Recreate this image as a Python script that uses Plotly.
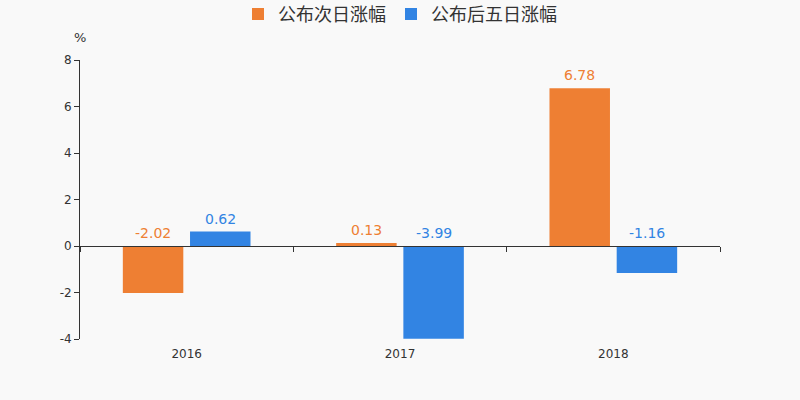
import plotly.graph_objects as go

categories = ["2016", "2017", "2018"]
next_day = [-2.02, 0.13, 6.78]
five_day = [0.62, -3.99, -1.16]
series_names = ["公布次日涨幅", "公布后五日涨幅"]
colors = ["#ee7f33", "#3284e3"]
y_ticks = [-4, -2, 0, 2, 4, 6, 8]

bargap = 0.37
slot_offset = (1 - bargap) / 4

fig = go.Figure()
annotations = []
for k, (name, vals, c) in enumerate(zip(series_names, [next_day, five_day], colors)):
    fig.add_trace(go.Bar(
        x=categories, y=vals, name=name, marker=dict(color=c, line=dict(width=0)),
        hoverinfo="x+y",
    ))
    off = -slot_offset if k == 0 else slot_offset
    for i, v in enumerate(vals):
        annotations.append(dict(
            x=i + off, y=max(v, 0), xref="x", yref="y", text=f"{v:.2f}",
            showarrow=False, yanchor="bottom", yshift=3,
            font=dict(color=c, size=14, family="DejaVu Sans")))

# invisible trace on second x axis for zero-line ticks
fig.add_trace(go.Scatter(x=categories, y=[0, 0, 0], xaxis="x2", mode="markers",
                         marker=dict(opacity=0), showlegend=False, hoverinfo="skip"))

annotations.append(dict(text="%", xref="paper", yref="paper", x=0, y=1, xanchor="center",
                        yanchor="bottom", yshift=13, showarrow=False,
                        font=dict(size=13, color="#333", family="DejaVu Sans")))

fig.update_layout(
    width=800, height=400,
    paper_bgcolor="#f9f9f9", plot_bgcolor="#f9f9f9",
    margin=dict(l=80, r=80, t=60, b=61, autoexpand=False),
    barmode="group", bargap=bargap, bargroupgap=0.1,
    font=dict(family="DejaVu Sans, Noto Sans CJK SC", color="#333"),
    legend=dict(orientation="h", x=0.5, xanchor="center", y=1.23, yanchor="top",
                yref="paper", font=dict(size=18, family="Noto Sans CJK SC, DejaVu Sans", color="#333"),
                itemwidth=30, bgcolor="rgba(0,0,0,0)"),
    xaxis=dict(type="category", showline=False, showgrid=False, ticks="",
               tickfont=dict(size=12), range=[-0.5, 2.5], ticklabelstandoff=6),
    xaxis2=dict(type="category", overlaying="x", anchor="free", position=1/3,
                showline=True, linecolor="#333", linewidth=1, ticks="outside",
                ticklen=5, tickcolor="#333", tickson="boundaries", showticklabels=False,
                showgrid=False, range=[-0.5, 2.5], side="bottom"),
    yaxis=dict(range=[-4, 8], tickvals=y_ticks, ticktext=[str(t) for t in y_ticks],
               showline=True, linecolor="#333", ticks="outside",
               ticklen=5, tickcolor="#333", showgrid=False, zeroline=False,
               tickfont=dict(size=12)),
    annotations=annotations,
)

fig.write_html("out.html")
